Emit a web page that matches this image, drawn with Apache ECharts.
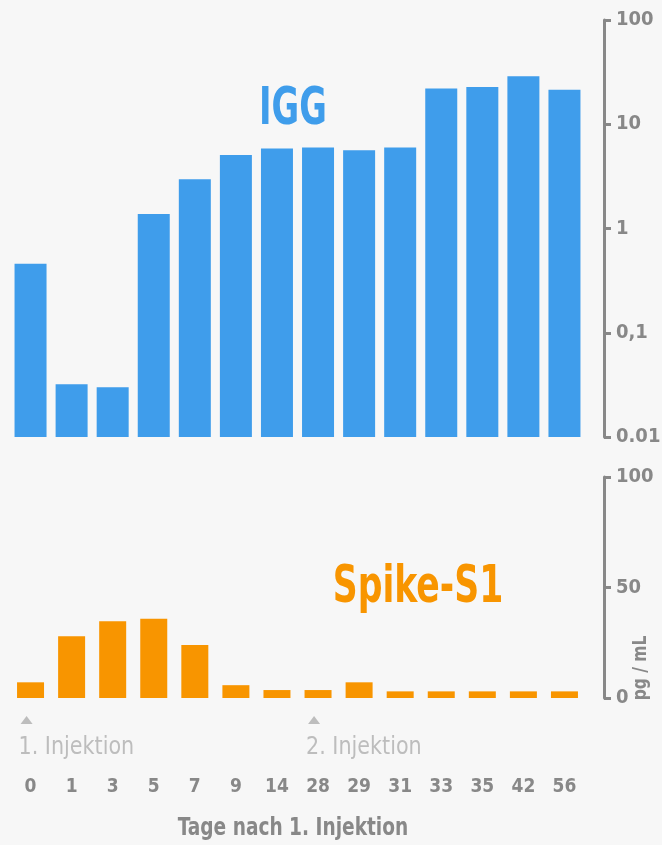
<!DOCTYPE html>
<html>
<head>
<meta charset="utf-8">
<script src="https://cdn.jsdelivr.net/npm/echarts@6/dist/echarts.min.js"></script>
<style>
html,body{margin:0;padding:0;background:#f7f7f7;}
#c{width:662px;height:845px;}
</style>
</head>
<body>
<div id="c"></div>
<script>
// ---- data ----
const days = ['0','1','3','5','7','9','14','28','29','31','33','35','42','56'];
const iggValues = [0.46, 0.032, 0.030, 1.38, 2.96, 5.07, 5.84, 5.97, 5.62, 5.97, 22.0, 22.8, 28.9, 21.4];
const spikeValues = [7.1, 27.9, 34.7, 35.9, 24.0, 5.8, 3.6, 3.6, 7.1, 3.0, 3.0, 3.0, 3.0, 3.0];
const iggTickLabels = ['0.01', '0,1', '1', '10', '100'];
const spikeTicks = [0, 50, 100];
const injections = [{day: '0', label: '1. Injektion'}, {day: '28', label: '2. Injektion'}];

const FONT = '"DejaVu Sans Condensed", "DejaVu Sans", sans-serif';
const BLUE = '#3f9deb', ORANGE = '#f89500', GRAY = '#888888', LIGHT = '#bdbdbd';

const chart = echarts.init(document.getElementById('c'), null, {renderer: 'canvas'});

function iggLabel(v) {
  const i = Math.round(Math.log10(v)) + 2;
  return iggTickLabels[i] !== undefined ? iggTickLabels[i] : '';
}

const axisCommon = {
  position: 'right',
  offset: 19,
  axisLine: {show: true, lineStyle: {color: GRAY, width: 3}},
  axisTick: {show: true, inside: false, length: 7, lineStyle: {color: GRAY, width: 3}},
  axisLabel: {color: GRAY, fontFamily: FONT, fontWeight: 'bold', fontSize: 20, margin: 12},
  splitLine: {show: false}
};

const option = {
  backgroundColor: '#f7f7f7',
  animation: false,
  grid: [
    {left: 10, right: 77, top: 20, bottom: 408, outerBoundsMode: 'none', containLabel: false},
    {left: 10, right: 77, top: 477, bottom: 147, outerBoundsMode: 'none', containLabel: false}
  ],
  xAxis: [
    {type: 'category', gridIndex: 0, data: days, axisLine: {show: false}, axisTick: {show: false}, axisLabel: {show: false}},
    {type: 'category', gridIndex: 1, data: days, axisLine: {show: false}, axisTick: {show: false},
     axisLabel: {color: GRAY, fontFamily: FONT, fontWeight: 'bold', fontSize: 19, margin: 80}}
  ],
  yAxis: [
    Object.assign({}, axisCommon, {type: 'log', gridIndex: 0, logBase: 10, min: 0.01, max: 100, startValue: 0.01,
      axisLabel: Object.assign({}, axisCommon.axisLabel, {formatter: iggLabel})}),
    Object.assign({}, axisCommon, {type: 'value', gridIndex: 1, min: spikeTicks[0], max: spikeTicks[2], interval: spikeTicks[1]})
  ],
  series: [
    {type: 'bar', xAxisIndex: 0, yAxisIndex: 0, data: iggValues, barWidth: 32, itemStyle: {color: BLUE}},
    {type: 'bar', xAxisIndex: 1, yAxisIndex: 1, data: spikeValues, barWidth: 27, itemStyle: {color: ORANGE}}
  ]
};
chart.setOption(option);

// annotations positioned via the chart's own scales
const graphics = [
  {type: 'text', x: 293, y: 110, scaleX: 0.72, style: {text: 'IGG', align: 'center', verticalAlign: 'middle', fill: BLUE, font: 'bold 52px ' + FONT}},
  {type: 'text', x: 418, y: 588, scaleX: 0.74, style: {text: 'Spike-S1', align: 'center', verticalAlign: 'middle', fill: ORANGE, font: 'bold 52px ' + FONT}},
  {type: 'text', rotation: Math.PI / 2, x: 641, y: 668, scaleX: 0.86, style: {text: 'pg / mL', align: 'center', verticalAlign: 'middle', fill: GRAY, font: 'bold 20px ' + FONT}},
  {type: 'text', x: 293, y: 829, scaleX: 0.86, style: {text: 'Tage nach 1. Injektion', align: 'center', verticalAlign: 'middle', fill: GRAY, font: 'bold 24px ' + FONT}}
];
injections.forEach(function (inj) {
  const p = chart.convertToPixel({xAxisIndex: 1, yAxisIndex: 1}, [inj.day, 0]);
  const cx = p[0] - 4;
  graphics.push({type: 'polygon', shape: {points: [[cx - 6, 724], [cx + 6, 724], [cx, 716]]}, style: {fill: LIGHT}});
  graphics.push({type: 'text', x: p[0] - 12, y: 747, scaleX: 0.92, style: {text: inj.label, align: 'left', verticalAlign: 'middle', fill: LIGHT, font: '25px ' + FONT}});
});
chart.setOption({graphic: graphics});
</script>
</body>
</html>
